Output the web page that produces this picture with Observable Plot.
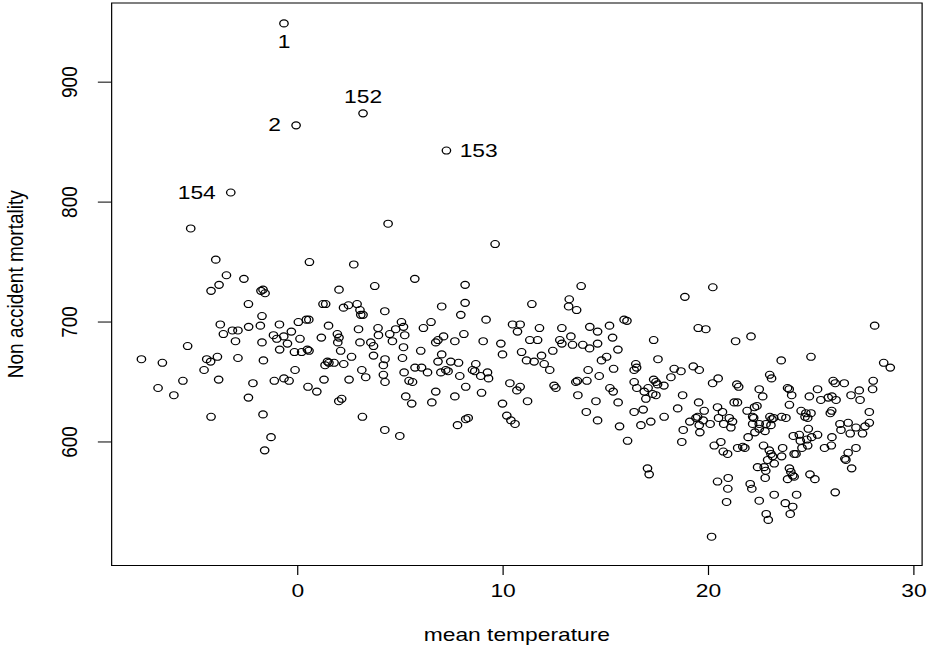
<!DOCTYPE html>
<html><head><meta charset="utf-8">
<script src="https://cdn.jsdelivr.net/npm/d3@7"></script>
<script src="https://cdn.jsdelivr.net/npm/@observablehq/plot@0.6"></script>
<style>
html,body{margin:0;padding:0;background:#fff;overflow:hidden}
#chart svg{display:block;transform:scaleX(1.2005);transform-origin:0 0}
</style></head><body><div id="chart"></div>
<script>
// mean temperature (x) and non accident mortality (y); first five points are labelled
const temperature = [
-0.67,-0.08,3.18,7.24,-3.26,-5.21,4.40,9.61,
-3.99,-3.47,-2.62,-3.83,-4.22,-1.79,-1.69,-1.59,-2.40,-1.74,-3.77,-3.62,-3.18,-2.91,-2.39,-1.82,-0.89,-3.03,-1.74,-1.18,-1.02,-0.88,-5.36,-7.61,-6.59,-4.43,-4.24,-3.91,-2.91,-1.67,-4.56,-5.59,-3.85,-2.18,-1.14,-6.80,
-6.03,-2.40,-4.22,-1.69,-1.30,-1.61,
0.57,2.73,5.70,2.01,3.75,1.23,1.36,2.23,2.47,2.89,3.03,3.07,3.18,4.24,0.03,0.42,0.54,1.50,-0.31,-0.68,-0.50,0.11,1.15,1.93,2.01,1.95,2.96,3.91,3.93,4.48,4.77,5.05,5.15,5.21,6.12,6.49,4.61,3.03,3.56,3.69,2.09,-0.16,0.19,0.47,0.55,5.15,5.99,2.62,3.69,1.45,1.33,1.52,1.77,2.24,4.25,4.17,5.10,-0.13,3.12,5.18,5.71,6.03,6.32,-0.67,-0.42,1.28,2.50,3.31,4.17,4.25,5.42,5.59,0.50,
0.93,2.00,2.14,3.15,4.24,4.97,5.26,5.55,6.53,6.72,
8.15,13.80,8.15,7.01,11.40,13.22,13.19,13.58,7.94,9.17,10.46,10.83,10.70,11.77,12.86,14.22,7.10,6.72,6.83,7.65,8.09,9.03,9.89,11.30,11.68,12.76,12.86,13.30,13.38,13.88,14.21,12.42,10.90,9.97,7.01,6.83,7.45,7.83,8.67,11.14,11.51,11.87,12.00,12.27,14.14,6.97,7.21,7.32,8.51,8.62,8.91,9.24,9.29,7.89,10.33,10.83,12.48,12.57,13.54,13.62,14.08,8.18,
7.65,8.95,9.97,11.19,10.67,13.64,14.05,7.78,8.18,8.30,10.18,10.38,10.58,
20.21,18.85,15.89,16.03,14.60,15.18,15.33,19.50,19.87,17.33,21.32,14.60,15.59,14.79,15.04,17.54,15.38,14.68,16.46,16.50,16.38,18.33,18.66,19.26,19.55,17.33,17.44,18.17,16.38,17.52,20.20,20.47,21.38,21.47,
15.20,15.36,16.51,16.87,17.06,17.28,17.44,17.83,14.52,15.60,16.95,18.74,19.52,16.38,16.82,18.50,17.84,17.19,16.71,14.60,15.67,16.06,18.77,18.70,19.09,19.39,19.55,19.79,19.74,20.08,19.47,19.58,20.44,20.68,20.49,21.01,20.74,21.09,21.17,21.25,21.41,21.88,20.28,20.60,20.72,20.93,21.42,21.67,21.77,17.03,17.11,20.44,20.96,20.94,20.88,20.15,
28.09,22.07,23.54,24.99,28.53,28.85,22.98,23.07,26.07,26.17,26.61,28.02,22.47,23.85,23.93,25.31,27.34,27.99,
22.64,24.05,24.91,25.47,25.83,26.01,26.21,26.94,27.38,23.94,22.24,22.36,22.15,22.20,22.99,23.17,23.09,23.56,23.77,24.51,24.74,24.99,24.83,24.70,25.93,26.00,27.83,22.15,22.47,22.80,23.04,22.47,22.26,22.75,21.93,24.86,26.40,26.45,26.80,26.90,27.18,27.50,27.62,27.83,24.13,24.42,25.31,25.02,24.79,24.47,24.83,24.55,26.01,25.98,25.65,22.68,23.61,22.96,23.04,23.12,22.88,23.20,23.56,24.17,24.26,27.18,26.80,26.64,26.69,26.97,22.39,22.71,22.79,22.76,23.94,24.01,24.10,23.85,24.17,24.94,25.18,22.03,22.11,23.20,24.29,26.17,22.47,23.74,24.10,23.98,22.81,22.91
];
const mortality = [
949,864,874,843,808,778,782,765,
752,739,736,731,726,726,727,724,715,705,698,690,693,693,696,697,698,684,683,689,686,677,680,669,666,669,667,671,670,668,660,651,652,649,651,645,
639,637,621,623,604,593,
750,748,736,727,730,715,715,712,714,715,710,706,706,709,700,702,702,697,692,688,682,686,687,690,687,683,694,695,689,690,694,700,696,689,695,700,684,683,683,680,676,675,675,677,676,679,676,671,672,667,664,666,666,665,669,664,670,660,660,658,662,662,658,653,651,652,652,654,656,650,651,650,646,
642,634,636,621,610,605,638,632,633,642,
731,730,716,713,715,719,713,710,706,702,698,698,692,695,695,696,688,683,685,684,690,684,682,685,685,685,682,688,681,681,678,676,675,673,673,667,667,666,665,668,667,672,665,660,660,658,660,659,660,659,655,658,653,655,649,646,647,645,650,651,651,646,
638,641,632,634,643,639,625,614,619,620,622,618,615,
729,721,702,701,692,697,687,695,694,685,684,682,677,668,671,669,661,655,665,662,660,661,659,663,660,652,650,654,650,648,649,653,648,646,
645,642,645,642,645,640,639,647,634,633,636,639,633,625,627,628,621,617,614,618,613,601,610,600,617,620,614,626,618,615,621,608,629,625,620,620,615,612,617,633,633,626,597,600,592,590,595,596,595,578,573,567,570,561,550,521,
697,688,668,671,666,662,656,653,651,649,649,651,644,645,644,644,643,644,
638,639,638,635,637,638,635,639,635,631,629,630,621,620,621,620,619,621,620,626,624,624,620,621,624,626,625,615,615,615,614,611,608,609,604,611,615,610,616,607,612,607,613,616,605,606,606,604,602,601,597,595,604,597,595,597,595,593,590,588,585,582,588,590,590,595,591,586,585,578,579,579,576,570,578,575,572,569,571,573,569,565,561,556,556,558,551,549,546,540,540,535
];
const pointLabels = ["1", "2", "152", "153", "154"];
const xTicks = [0, 10, 20, 30];
const yTicks = [600, 700, 800, 900];
const xTitle = "mean temperature";
const yTitle = "Non accident mortality";

const rows = temperature.map((t, i) => ({t, m: mortality[i], label: pointLabels[i] || null}));
const lab = (s) => rows.filter(d => d.label === s);
const fs = 19;
const font = "'Liberation Sans', Arial, Helvetica, sans-serif";

const chart = Plot.plot({
  width: 773,
  height: 648,
  marginLeft: 92.5,
  marginRight: 5.4,
  marginTop: 2.5,
  marginBottom: 83,
  style: {fontFamily: font, fontSize: fs + "px", color: "black", background: "white", overflow: "visible"},
  x: {domain: [-9.06, 30.4]},
  y: {domain: [497, 966]},
  marks: [
    Plot.frame({stroke: "black", strokeWidth: 1}),
    Plot.axisX({ticks: xTicks, tickSize: 10, tickPadding: 8, fontSize: fs, label: null}),
    Plot.axisY({ticks: yTicks, tickSize: 11, tickFormat: () => "", label: null}),
    Plot.text(yTicks, {y: d => d, text: d => String(d), frameAnchor: "left", dx: -35, rotate: -90, fontSize: fs, textAnchor: "middle", lineAnchor: "middle"}),
    Plot.text([xTitle], {text: d => d, frameAnchor: "bottom", dy: 69, fontSize: fs, textAnchor: "middle", lineAnchor: "middle"}),
    Plot.text([yTitle], {text: d => d, frameAnchor: "left", dx: -80, rotate: -90, fontSize: fs, textAnchor: "middle", lineAnchor: "middle"}),
    Plot.dot(rows, {x: "t", y: "m", r: 3.5, stroke: "black", strokeWidth: 1.1, fill: "none"}),
    Plot.text(lab("1"), {x: "t", y: "m", text: "label", dy: 19, fontSize: fs}),
    Plot.text(lab("2"), {x: "t", y: "m", text: "label", dx: -12.7, textAnchor: "end", fontSize: fs}),
    Plot.text(lab("152"), {x: "t", y: "m", text: "label", dy: -16.6, fontSize: fs}),
    Plot.text(lab("153"), {x: "t", y: "m", text: "label", dx: 11, textAnchor: "start", fontSize: fs}),
    Plot.text(lab("154"), {x: "t", y: "m", text: "label", dx: -12.5, textAnchor: "end", fontSize: fs})
  ]
});
document.getElementById("chart").appendChild(chart);
</script></body></html>
